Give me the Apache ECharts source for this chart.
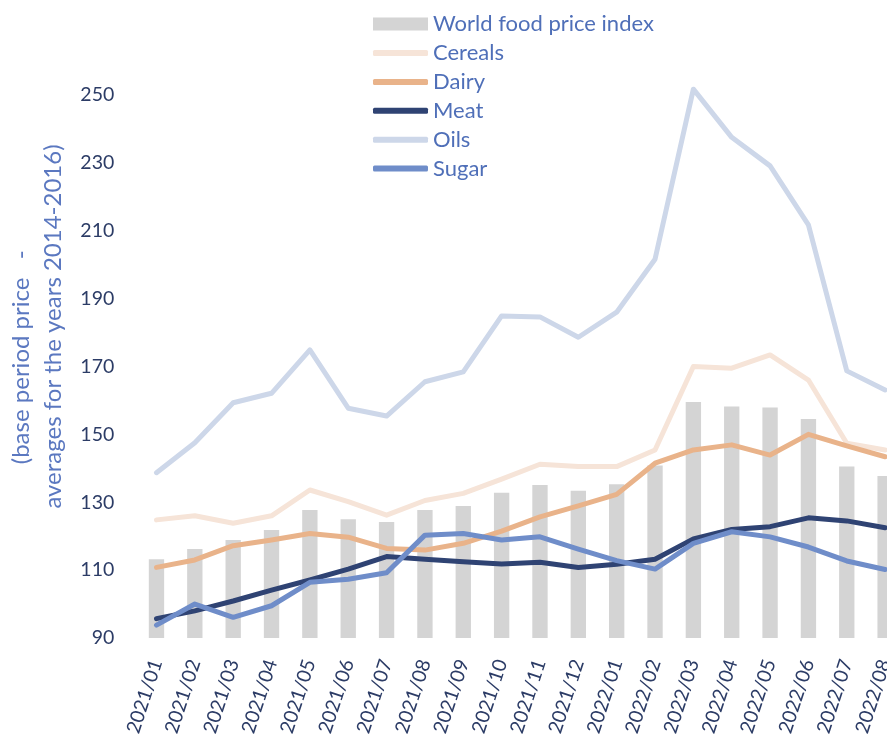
<!DOCTYPE html>
<html>
<head>
<meta charset="utf-8">
<script src="https://cdn.jsdelivr.net/npm/echarts@6/dist/echarts.min.js"></script>
<style>html,body{margin:0;padding:0;background:#fff;}#c{width:887px;height:738px;}</style>
</head>
<body>
<div id="c"></div>
<script>
const categories = ['2021/01','2021/02','2021/03','2021/04','2021/05','2021/06','2021/07','2021/08','2021/09','2021/10','2021/11','2021/12','2022/01','2022/02','2022/03','2022/04','2022/05','2022/06','2022/07','2022/08'];
const worldFood = [113.2,116.2,118.9,121.8,127.7,125.0,124.2,127.7,128.9,132.8,135.1,133.4,135.3,140.8,159.5,158.2,157.9,154.5,140.5,137.7];
const cereals   = [124.8,126.0,123.8,126.0,133.6,130.2,126.2,130.5,132.6,136.8,141.2,140.5,140.5,145.4,170.0,169.5,173.4,166.0,147.4,145.4];
const dairy     = [110.8,113.0,117.2,118.9,120.8,119.7,116.4,115.9,117.9,121.5,125.7,128.9,132.3,141.5,145.4,146.9,143.9,150.0,146.6,143.4];
const meat      = [95.7,98.0,100.9,104.1,107.1,110.3,114.0,113.2,112.5,111.8,112.3,110.8,111.7,113.2,119.2,122.0,122.8,125.4,124.5,122.5];
const oils      = [138.7,147.5,159.3,162.1,174.9,157.7,155.4,165.5,168.4,184.9,184.6,178.6,186.0,201.6,251.7,237.5,229.1,211.7,168.7,163.1];
const sugar     = [93.8,100.0,96.1,99.5,106.4,107.3,109.2,120.3,120.8,118.9,119.8,116.2,112.8,110.3,117.9,121.3,119.8,116.8,112.7,110.2];
const yTicks = [90,110,130,150,170,190,210,230,250];

const FONT = 'Lato';
const colors = {world:'#d4d4d4', cereals:'#f6e4d8', dairy:'#e9b38a', meat:'#2f4373', oils:'#cdd7e9', sugar:'#6f8dc9'};

function lineSeries(name, data, color) {
  return {name, type:'line', data, symbol:'none', smooth:false,
    lineStyle:{color, width:5, cap:'round', join:'round'}, itemStyle:{color}};
}

const legendText = {fontFamily:FONT, fontSize:22, color:'#4f6fb8', lineHeight:20};
const chart = echarts.init(document.getElementById('c'), null, {renderer:'canvas'});
chart.setOption({
  animation:false,
  backgroundColor:'#ffffff',
  grid:{left:137.3, right:-17.3, top:61, bottom:100, containLabel:false, outerBoundsMode:'none'},
  legend:[
    {orient:'vertical', left:373, top:13, padding:0, itemWidth:55, itemHeight:13, itemGap:9, itemTextGap:4,
     textStyle:legendText,
     data:[{name:'World food price index', icon:'rect'}]},
    {orient:'vertical', left:373, top:42, padding:0, itemWidth:55, itemHeight:6, itemGap:6.9, itemTextGap:4,
     textStyle:legendText,
     data:[{name:'Cereals', icon:'roundRect'},{name:'Dairy', icon:'roundRect'},{name:'Meat', icon:'roundRect'},{name:'Oils', icon:'roundRect'},{name:'Sugar', icon:'roundRect'}]}
  ],
  xAxis:{type:'category', data:categories, boundaryGap:true,
    axisLine:{show:false}, axisTick:{show:false}, splitLine:{show:false},
    axisLabel:{rotate:72, interval:0, margin:22, fontFamily:FONT, fontSize:19.5, color:'#2c3c66'}},
  yAxis:{type:'value', min:90, max:260,
    name:'(base period price   -          \naverages for the years 2014-2016)', nameLocation:'middle', nameGap:63, nameRotate:90,
    nameTextStyle:{fontFamily:FONT, fontSize:24, color:'#5b78c0', lineHeight:32, align:'center', padding:[0,0,0,46]},
    axisLine:{show:false}, axisTick:{show:false}, splitLine:{show:false},
    axisLabel:{customValues:yTicks, margin:23, fontFamily:FONT, fontSize:19.5, color:'#2c3c66'}},
  series:[
    {name:'World food price index', type:'bar', data:worldFood, barWidth:'40%', itemStyle:{color:colors.world}},
    lineSeries('Cereals', cereals, colors.cereals),
    lineSeries('Dairy', dairy, colors.dairy),
    lineSeries('Meat', meat, colors.meat),
    lineSeries('Oils', oils, colors.oils),
    lineSeries('Sugar', sugar, colors.sugar)
  ]
});
</script>
</body>
</html>
